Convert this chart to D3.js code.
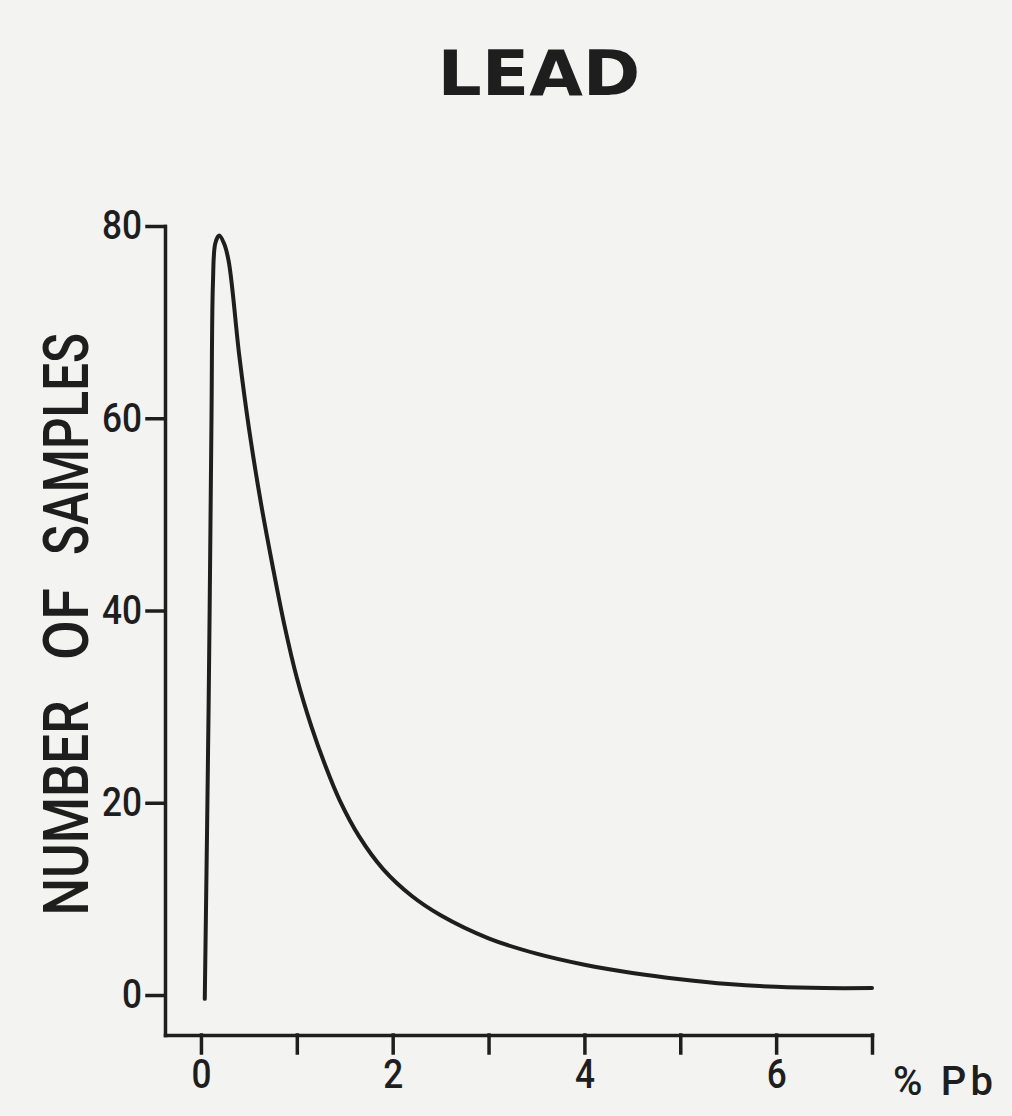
<!DOCTYPE html>
<html>
<head>
<meta charset="utf-8">
<script src="https://cdn.jsdelivr.net/npm/d3@7"></script>
<style>
  body { margin: 0; background: #f3f3f1; }
  svg { display: block; }
</style>
</head>
<body>
<div id="chart"></div>
<script>
const width = 1012
const height = 1116

// curve: % Pb vs number of samples
const pctPb = [0.04, 0.08, 0.11, 0.125, 0.15, 0.19, 0.24, 0.29, 0.40, 0.50, 0.62, 0.75, 0.87, 1.00, 1.15, 1.30, 1.45, 1.65, 1.90, 2.20, 2.50, 3.00, 3.50, 4.00, 4.50, 5.00, 5.50, 6.00, 6.50, 7.00]
const samples = [-0.4, 30, 60, 74, 78.2, 79, 78.2, 76.3, 66.5, 59.0, 51.5, 44.5, 38.5, 33.0, 28.0, 23.8, 20.2, 16.5, 13.1, 10.3, 8.3, 5.9, 4.3, 3.15, 2.3, 1.65, 1.15, 0.85, 0.72, 0.72]

const xTicks = [0, 1, 2, 3, 4, 5, 6, 7]
const xTickLabels = ["0", "", "2", "", "4", "", "6", ""]
const yTicks = [0, 20, 40, 60, 80]

const ink = "#1e1e1e"
const font = "Roboto, 'DejaVu Sans', sans-serif"

const svg = d3.select("#chart")
  .append("svg")
    .attr("width", width)
    .attr("height", height)

const x = d3.scaleLinear().domain([-0.375, 7]).range([165, 872])
const y = d3.scaleLinear().domain([-4.16, 80]).range([1035, 226])

// x axis
svg.append("g")
  .attr("transform", "translate(0," + y(-4.16) + ")")
  .call(d3.axisBottom(x)
    .tickValues(xTicks)
    .tickFormat((d, i) => xTickLabels[i])
    .tickSizeInner(18)
    .tickSizeOuter(0)
    .tickPadding(7))

// y axis
svg.append("g")
  .attr("transform", "translate(" + x(-0.375) + ",0)")
  .call(d3.axisLeft(y)
    .tickValues(yTicks)
    .tickSizeInner(18)
    .tickSizeOuter(0)
    .tickPadding(5))

svg.selectAll(".domain, .tick line")
  .attr("stroke", ink)
  .attr("stroke-width", 3.5)
  .attr("stroke-linecap", "square")

svg.selectAll(".tick text")
  .attr("fill", ink)
  .style("font-family", font)
  .style("font-weight", 500)
  .style("font-size", "40px")
  .attr("textLength", function() { return this.textContent.length * 20 })
  .attr("lengthAdjust", "spacingAndGlyphs")

// the distribution curve
const pts = pctPb.map((v, i) => [v, samples[i]])
svg.append("path")
  .datum(pts)
  .attr("fill", "none")
  .attr("stroke", ink)
  .attr("stroke-width", 4)
  .attr("stroke-linejoin", "round")
  .attr("stroke-linecap", "round")
  .attr("d", d3.line()
    .x(d => x(d[0]))
    .y(d => y(d[1]))
    .curve(d3.curveCatmullRom.alpha(0.5)))

// title
svg.append("text")
  .attr("x", 539)
  .attr("y", 95)
  .attr("text-anchor", "middle")
  .attr("fill", ink)
  .style("font-family", "'DejaVu Sans', sans-serif")
  .style("font-weight", "bold")
  .style("font-size", "62px")
  .attr("textLength", 203)
  .attr("lengthAdjust", "spacingAndGlyphs")
  .text("LEAD")

// y label, three words spaced out as on the drawing
const yWords = ["NUMBER", "OF", "SAMPLES"]
const yWordCenter = [808, 624, 444]
const yWordLength = [215, 72, 222]
svg.selectAll(".ylab")
  .data(yWords)
  .enter()
  .append("text")
    .attr("class", "ylab")
    .attr("transform", (d, i) => "translate(88," + yWordCenter[i] + ") rotate(-90)")
    .attr("text-anchor", "middle")
    .attr("fill", ink)
    .style("font-family", font)
    .style("font-weight", 500)
    .style("font-size", "63px")
    .attr("textLength", (d, i) => yWordLength[i])
    .attr("lengthAdjust", "spacingAndGlyphs")
    .text(d => d)

// x unit label
svg.append("text")
  .attr("x", 893)
  .attr("y", 1095)
  .attr("fill", ink)
  .style("font-family", font)
  .style("font-weight", 500)
  .style("font-size", "40px")
  .attr("textLength", 100)
  .attr("lengthAdjust", "spacing")
  .text("% Pb")
</script>
</body>
</html>
